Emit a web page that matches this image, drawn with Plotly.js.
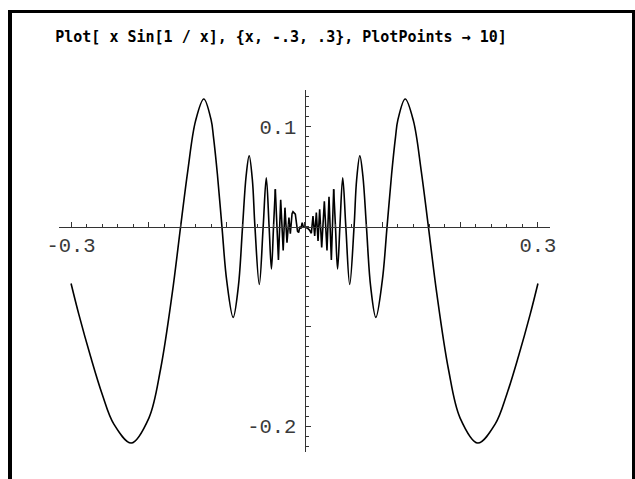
<!DOCTYPE html>
<html>
<head>
<meta charset="utf-8">
<script src="https://cdn.plot.ly/plotly-3.0.1.min.js"></script>
<style>
html,body{margin:0;padding:0;background:#fff;}
#chart{width:635px;height:479px;}
</style>
</head>
<body>
<div id="chart"></div>
<script>
// ---- data ----
// left outer lobes (smooth part), x ascending
const leftOuterX = [-0.3, -0.29, -0.275, -0.26, -0.245, -0.2226, -0.2, -0.185, -0.17, -0.1592, -0.15, -0.14, -0.1294, -0.12, -0.117, -0.112, -0.1061, -0.1, -0.0917, -0.085, -0.0796, -0.075, -0.0711, -0.067, -0.0637, -0.0581, -0.0531, -0.0491, -0.0455, -0.0425, -0.0398, -0.0375];
const leftOuterY = [-0.057, -0.088, -0.130, -0.168, -0.198, -0.217, -0.192, -0.143, -0.067, 0.0, 0.056, 0.106, 0.128, 0.107, 0.090, 0.053, 0.0, -0.054, -0.091, -0.060, 0.0, 0.051, 0.071, 0.047, 0.0, -0.058, 0.0, 0.049, 0.0, -0.0425, 0.0, 0.0375];
// jagged central part
const innerX = [-0.0375, -0.0335, -0.0306, -0.0274, -0.0251, -0.0225, -0.0200, -0.0182, -0.0160, -0.0148, -0.0118, -0.0090, -0.0075, -0.0060, -0.0045, -0.0030, -0.0018, 0.0, 0.0020, 0.0045, 0.0065, 0.0088, 0.0109, 0.0131, 0.0152, 0.0174, 0.0195, 0.0221, 0.0255, 0.0289, 0.0315, 0.0345, 0.0375];
const innerY = [0.0375, -0.0334, 0.027, -0.024, 0.019, -0.016, 0.009, -0.007, 0.013, 0.015, 0.0125, -0.0045, -0.006, 0.0, -0.002, 0.004, 0.0005, 0.0, -0.001, -0.002, -0.0035, -0.0067, 0.0107, -0.0094, 0.014, -0.0144, 0.0174, -0.021, 0.0254, -0.024, 0.030, -0.0334, 0.0375];
// right outer lobes
const rightOuterX = [0.0375, 0.0398, 0.0425, 0.0455, 0.0491, 0.0531, 0.0581, 0.0637, 0.067, 0.0711, 0.075, 0.0796, 0.085, 0.0917, 0.1, 0.1061, 0.112, 0.117, 0.12, 0.1294, 0.14, 0.15, 0.1592, 0.17, 0.185, 0.2, 0.2226, 0.245, 0.26, 0.275, 0.29, 0.3];
const rightOuterY = [0.0375, 0.0, -0.0425, 0.0, 0.049, 0.0, -0.058, 0.0, 0.047, 0.071, 0.051, 0.0, -0.060, -0.091, -0.054, 0.0, 0.053, 0.090, 0.107, 0.128, 0.106, 0.056, 0.0, -0.067, -0.143, -0.192, -0.217, -0.198, -0.168, -0.130, -0.088, -0.057];

const xMajorTicks = [-0.3, -0.2, -0.1, 0.0, 0.1, 0.2, 0.3];
const xMajorText  = ['-0.3', '', '', '', '', '', '0.3'];
const yMajorTicks = [-0.2, -0.1, 0.1];
const yMajorText  = ['-0.2', '', '0.1'];

// ---- layout constants ----
const W = 635, H = 479;
const ML = 59, MR = 85, MT = 90, MB = 27;
const xRange = [-0.3155, 0.3155];
const yRange = [-0.226, 0.137];
const pw = W - ML - MR, ph = H - MT - MB;
const px2paperX = p => (p - ML) / pw;
const px2paperY = p => (H - MB - p) / ph;

const lineStyle = {color: '#000', width: 1.6};
const traces = [
  {x: leftOuterX, y: leftOuterY, mode: 'lines', line: Object.assign({shape: 'spline', smoothing: 1}, lineStyle), hoverinfo: 'skip'},
  {x: innerX, y: innerY, mode: 'lines', line: Object.assign({shape: 'linear'}, lineStyle), hoverinfo: 'skip'},
  {x: rightOuterX, y: rightOuterY, mode: 'lines', line: Object.assign({shape: 'spline', smoothing: 1}, lineStyle), hoverinfo: 'skip'}
];

const tickFont = {family: 'Liberation Mono, DejaVu Sans Mono, monospace', size: 20.5, color: '#3a3a3a'};
const axisCommon = {
  showgrid: false, zeroline: false, showline: true, linecolor: '#333', linewidth: 1,
  ticks: 'inside', tickcolor: '#333', tickwidth: 1, anchor: 'free', tickfont: tickFont,
  fixedrange: true
};

const layout = {
  width: W, height: H,
  margin: {l: ML, r: MR, t: MT, b: MB, pad: 0},
  paper_bgcolor: '#fff', plot_bgcolor: '#fff',
  showlegend: false,
  title: {
    text: 'Plot[ x Sin[1 / x], {x, -.3, .3}, PlotPoints \u2192 10]',
    font: {family: 'DejaVu Sans Mono, monospace', size: 15, color: '#000', weight: 'bold'},
    xref: 'container', yref: 'container', x: 281 / W, y: 1 - 37 / H, xanchor: 'center', yanchor: 'middle'
  },
  xaxis: Object.assign({}, axisCommon, {
    range: xRange,
    position: (0 - yRange[0]) / (yRange[1] - yRange[0]),
    tickmode: 'array', tickvals: xMajorTicks, ticktext: xMajorText, ticklen: 5,
    ticklabelstandoff: 0,
    minor: {tickmode: 'linear', tick0: 0, dtick: 0.02, ticks: 'inside', ticklen: 3, tickcolor: '#333', tickwidth: 1}
  }),
  yaxis: Object.assign({}, axisCommon, {
    range: yRange,
    position: (0 - xRange[0]) / (xRange[1] - xRange[0]),
    tickmode: 'array', tickvals: yMajorTicks, ticktext: yMajorText, ticklen: 5,
    ticklabelstandoff: 4,
    minor: {tickmode: 'linear', tick0: 0, dtick: 0.01, ticks: 'inside', ticklen: 3, tickcolor: '#333', tickwidth: 1}
  }),
  shapes: [
    {type: 'line', xref: 'paper', yref: 'paper', x0: px2paperX(10), x1: px2paperX(10), y0: px2paperY(10), y1: px2paperY(500), line: {color: '#000', width: 4}},
    {type: 'line', xref: 'paper', yref: 'paper', x0: px2paperX(8), x1: px2paperX(640), y0: px2paperY(11.5), y1: px2paperY(11.5), line: {color: '#000', width: 3}},
    {type: 'line', xref: 'paper', yref: 'paper', x0: px2paperX(634), x1: px2paperX(634), y0: px2paperY(10), y1: px2paperY(500), line: {color: '#000', width: 4}}
  ]
};

Plotly.newPlot('chart', traces, layout, {displayModeBar: false, staticPlot: true});
</script>
</body>
</html>
